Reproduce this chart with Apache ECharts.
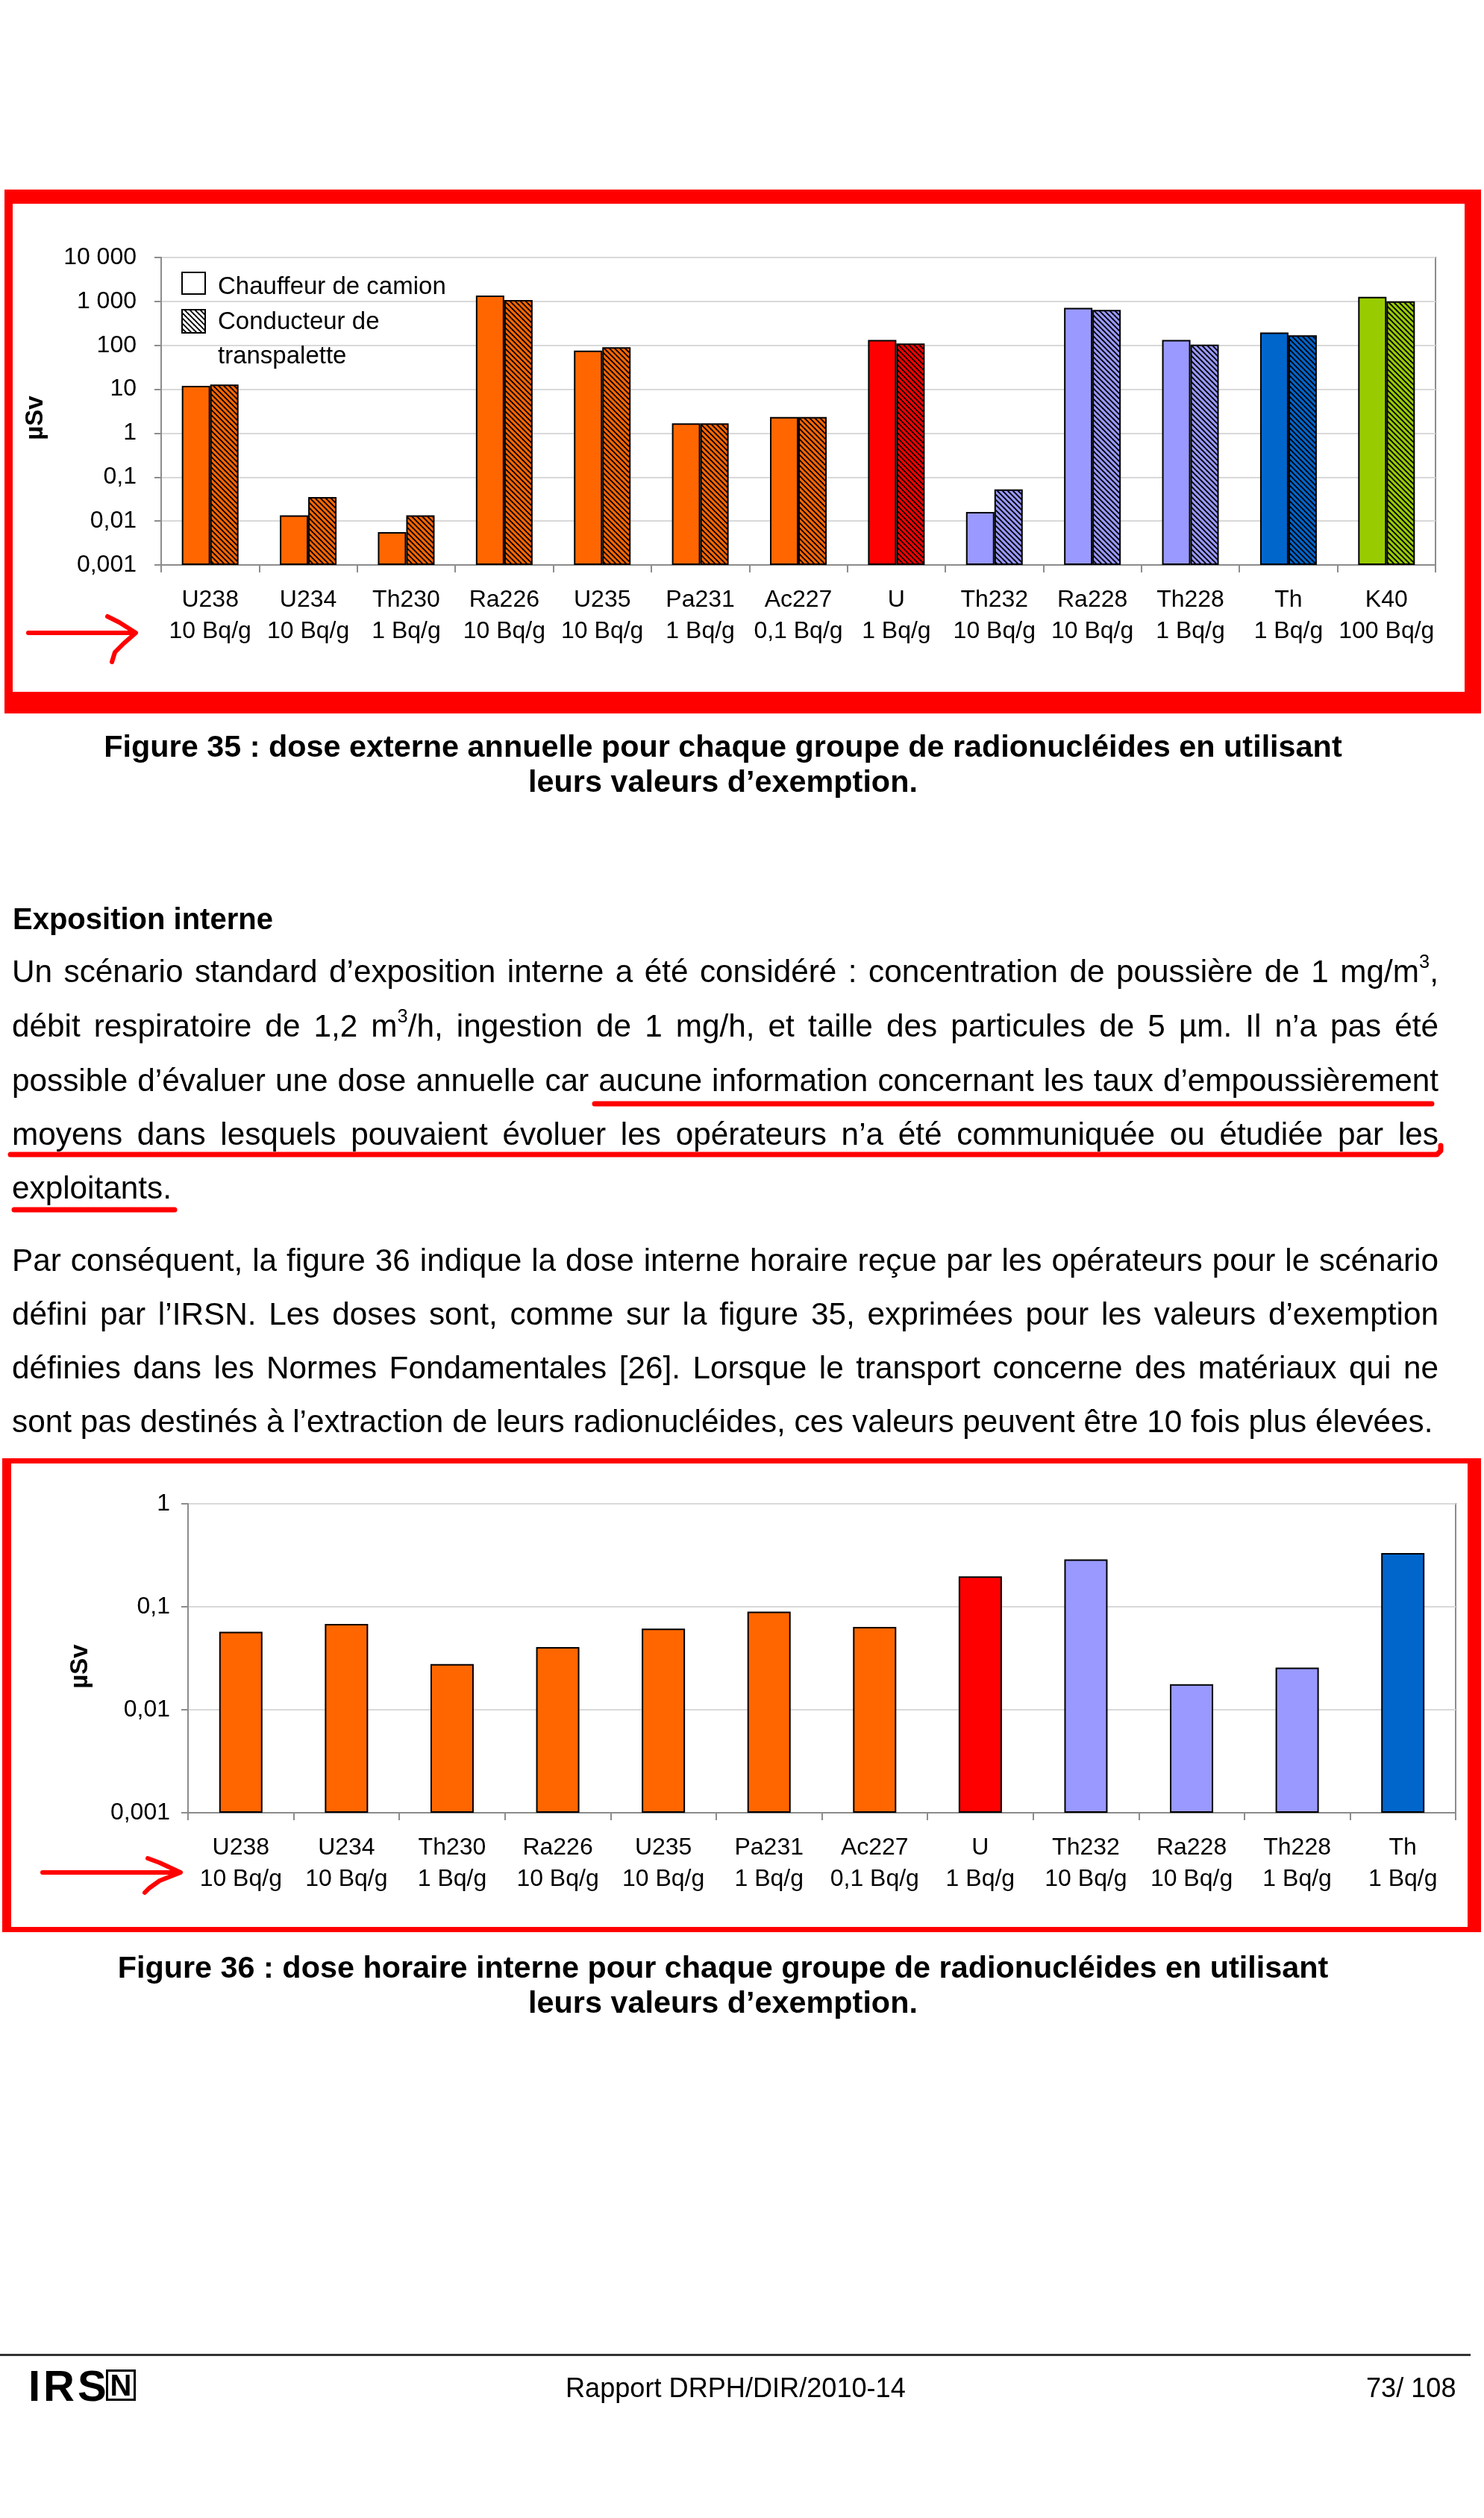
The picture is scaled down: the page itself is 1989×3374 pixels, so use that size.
<!DOCTYPE html>
<html><head><meta charset="utf-8">
<script src="https://cdn.jsdelivr.net/npm/echarts@6/dist/echarts.min.js"></script>
<style>
html,body{margin:0;padding:0;background:#fff;}
#page{position:relative;width:1989px;height:3374px;overflow:hidden;background:#fff;}
#chart{position:absolute;left:0;top:0;width:1989px;height:3374px;}
.t{position:absolute;white-space:nowrap;font-family:'Liberation Sans',Arial,sans-serif;color:#000;line-height:1;z-index:2;}
.t sup{font-size:0.6em;line-height:0;vertical-align:0.75em;}
</style></head><body><div id="page"><div id="chart"></div></div>
<script>
// ---------- DATA ----------
const categories1 = ['U238','U234','Th230','Ra226','U235','Pa231','Ac227','U','Th232','Ra228','Th228','Th','K40'];
const activities1 = ['10 Bq/g','10 Bq/g','1 Bq/g','10 Bq/g','10 Bq/g','1 Bq/g','0,1 Bq/g','1 Bq/g','10 Bq/g','10 Bq/g','1 Bq/g','1 Bq/g','100 Bq/g'];
const family1 = ['U-chain','U-chain','U-chain','U-chain','U-chain','U-chain','U-chain','U-total','Th-chain','Th-chain','Th-chain','Th-total','K'];
const chauffeurCamion = [11.9, 0.0135, 0.0056, 1360, 76, 1.68, 2.33, 132, 0.0161, 714, 132, 196, 1270];
const conducteurTranspalette = [12.8, 0.035, 0.0135, 1077, 91, 1.68, 2.33, 110, 0.0527, 640, 104, 169, 1005];
const yTicks1 = ['0,001','0,01','0,1','1','10','100','1 000','10 000'];

const categories2 = ['U238','U234','Th230','Ra226','U235','Pa231','Ac227','U','Th232','Ra228','Th228','Th'];
const activities2 = ['10 Bq/g','10 Bq/g','1 Bq/g','10 Bq/g','10 Bq/g','1 Bq/g','0,1 Bq/g','1 Bq/g','10 Bq/g','10 Bq/g','1 Bq/g','1 Bq/g'];
const family2 = ['U-chain','U-chain','U-chain','U-chain','U-chain','U-chain','U-chain','U-total','Th-chain','Th-chain','Th-chain','Th-total'];
const doseInterneHoraire = [0.0571, 0.068, 0.0278, 0.0406, 0.0615, 0.0898, 0.0636, 0.197, 0.288, 0.0177, 0.0257, 0.332];
const yTicks2 = ['0,001','0,01','0,1','1'];

const legendLabels = ['Chauffeur de camion', 'Conducteur de', 'transpalette'];

// ---------- STYLE ----------
const FONT = "'Liberation Sans', Arial, sans-serif";
const RED = '#FF0000';
const FAMILY_COLORS = {'U-chain':'#FF6600','U-total':'#FF0000','Th-chain':'#9999FF','Th-total':'#0066CC','K':'#99CC00'};
const AXIS_GRAY = '#8c8c8c';
const GRID_GRAY = '#d9d9d9';

function hatch(bg) {
  const c = document.createElement('canvas'); c.width = 7; c.height = 7;
  const g = c.getContext('2d');
  g.fillStyle = bg; g.fillRect(0, 0, 7, 7);
  g.strokeStyle = '#000'; g.lineWidth = 1.9;
  for (let k = -1; k <= 1; k++) { g.beginPath(); g.moveTo(-1, -1 + 7 * k); g.lineTo(8, 8 + 7 * k); g.stroke(); }
  return { image: c, repeat: 'repeat' };
}
function logLabel(ticks) {
  return v => ticks[Math.round(Math.log10(v)) - Math.round(Math.log10(parseFloat(ticks[0].replace(',', '.'))))] || '';
}

function xAxisCfg(gi, cats, acts) {
  return {
    gridIndex: gi, type: 'category', data: cats,
    axisLine: { onZero: false, lineStyle: { color: AXIS_GRAY, width: 2 } },
    axisTick: { show: true, length: 10, alignWithLabel: false, lineStyle: { color: AXIS_GRAY, width: 2 } },
    splitLine: { show: false },
    axisLabel: { interval: 0, formatter: (v, i) => v + '\n' + acts[i], fontFamily: FONT, fontSize: 32, lineHeight: 42, color: '#000', margin: 26 }
  };
}
function yAxisCfg(gi, min, max, split, ticks, margin) {
  return {
    gridIndex: gi, type: 'log', logBase: 10, min: min, max: max, splitNumber: split, startValue: min,
    axisLine: { show: true, lineStyle: { color: AXIS_GRAY, width: 2 } },
    axisTick: { show: true, length: 9, lineStyle: { color: AXIS_GRAY, width: 2 } },
    minorTick: { show: false }, minorSplitLine: { show: false },
    splitLine: { show: true, lineStyle: { color: GRID_GRAY, width: 2 } },
    axisLabel: { formatter: logLabel(ticks), fontFamily: FONT, fontSize: 32, color: '#000', margin: margin }
  };
}
function rect(x, y, w, h) { return { type: 'rect', z: 100, shape: { x: x, y: y, width: w, height: h }, style: { fill: RED } }; }
function pline(pts, w) { return { type: 'polyline', z: 100, shape: { points: pts }, style: { stroke: RED, lineWidth: w || 6, lineCap: 'round', lineJoin: 'round', fill: null } }; }
function txt(x, y, s, font, rot) {
  return { type: 'text', z: 100, x: x, y: y, rotation: rot || 0,
    style: { text: s, font: font, fill: '#000', textAlign: rot ? 'center' : 'left', textVerticalAlign: 'middle', align: rot ? 'center' : 'left', verticalAlign: 'middle' } };
}

const chart = echarts.init(document.getElementById('chart'), null, { renderer: 'canvas' });
const option = {
  animation: false,
  backgroundColor: '#fff',
  textStyle: { fontFamily: FONT },
  grid: [
    { left: 216, top: 345, width: 1708, height: 412, show: true, borderColor: AXIS_GRAY, borderWidth: 2, containLabel: false },
    { left: 252, top: 2015, width: 1699, height: 414, show: true, borderColor: AXIS_GRAY, borderWidth: 2, containLabel: false }
  ],
  xAxis: [xAxisCfg(0, categories1, activities1), xAxisCfg(1, categories2, activities2)],
  yAxis: [yAxisCfg(0, 0.001, 10000, 7, yTicks1, 33), yAxisCfg(1, 0.001, 1, 3, yTicks2, 24)],
  series: [
    { type: 'bar', name: legendLabels[0], xAxisIndex: 0, yAxisIndex: 0, barWidth: 38, barGap: '0%',
      itemStyle: { borderColor: '#000', borderWidth: 2 },
      data: chauffeurCamion.map((v, i) => ({ value: v, itemStyle: { color: FAMILY_COLORS[family1[i]] } })) },
    { type: 'bar', name: legendLabels[1] + ' ' + legendLabels[2], xAxisIndex: 0, yAxisIndex: 0, barWidth: 38, barGap: '0%',
      itemStyle: { borderColor: '#000', borderWidth: 2 },
      data: conducteurTranspalette.map((v, i) => ({ value: v, itemStyle: { color: hatch(FAMILY_COLORS[family1[i]]) } })) },
    { type: 'bar', name: 'Dose interne horaire', xAxisIndex: 1, yAxisIndex: 1, barWidth: 58,
      itemStyle: { borderColor: '#000', borderWidth: 2 },
      data: doseInterneHoraire.map((v, i) => ({ value: v, itemStyle: { color: FAMILY_COLORS[family2[i]] } })) }
  ],
  graphic: [
    // red frame figure 35
    rect(6, 254, 1979, 19), rect(6, 254, 11, 702), rect(1963, 254, 22, 702), rect(6, 927, 1979, 29),
    // red frame figure 36
    rect(3, 1954, 1982, 7), rect(3, 1954, 12, 635), rect(1967, 1954, 18, 635), rect(3, 2582, 1982, 7),
    // arrows
    pline([[38, 848], [181, 848]], 6),
    pline([[144, 826], [160, 834], [182, 848], [166, 862], [154, 874], [150, 887]], 6),
    pline([[57, 2509], [241, 2509]], 6),
    pline([[198, 2490], [214, 2496], [242, 2509], [214, 2520], [200, 2530], [194, 2536]], 6),
    // underlines in text
    pline([[797, 1479], [1919, 1479]], 7),
    pline([[14, 1547], [1926, 1547], [1931, 1542], [1931, 1535]], 7),
    pline([[19, 1621], [234, 1621]], 7),
    // legend
    { type: 'rect', z: 100, shape: { x: 244, y: 365, width: 31, height: 29 }, style: { fill: '#fff', stroke: '#000', lineWidth: 2 } },
    { type: 'rect', z: 100, shape: { x: 244, y: 415, width: 31, height: 31 }, style: { fill: hatch('#ffffff'), stroke: '#000', lineWidth: 2 } },
    txt(292, 385, legendLabels[0], '33px ' + FONT),
    txt(292, 432, legendLabels[1], '33px ' + FONT),
    txt(292, 478, legendLabels[2], '33px ' + FONT),
    // axis names
    txt(48, 560, 'µSv', 'bold 33px ' + FONT, Math.PI / 2),
    txt(108, 2233, 'µSv', 'bold 33px ' + FONT, Math.PI / 2)
  ]
};
chart.setOption(option);

// ---------- HTML TEXT ----------
const page = document.getElementById('page');
function addLine(html, opt) {
  const d = document.createElement('div');
  d.className = 't';
  d.innerHTML = html;
  d.style.fontSize = opt.size + 'px';
  d.style.fontWeight = opt.bold ? 'bold' : 'normal';
  if (opt.ls) d.style.letterSpacing = opt.ls + 'px';
  page.appendChild(d);
  const w = d.getBoundingClientRect().width;
  let left = opt.left;
  if (opt.justify) {
    const n = (d.textContent.match(/ /g) || []).length;
    if (n) d.style.wordSpacing = ((opt.justify - w) / n) + 'px';
  }
  if (opt.center != null) left = opt.center - w / 2;
  d.style.left = left + 'px';
  d.style.top = (opt.baseline - 0.8465 * opt.size) + 'px';
  return d;
}
function measure(html, size, bold) {
  const d = document.createElement('div');
  d.className = 't'; d.innerHTML = html; d.style.fontSize = size + 'px'; d.style.fontWeight = bold ? 'bold' : 'normal';
  page.appendChild(d); const w = d.getBoundingClientRect().width; page.removeChild(d); return w;
}

const heading = 'Exposition interne';
const para1 = [
  'Un scénario standard d’exposition interne a été considéré : concentration de poussière de 1 mg/m<sup>3</sup>,',
  'débit respiratoire de 1,2 m<sup>3</sup>/h, ingestion de 1 mg/h, et taille des particules de 5 µm. Il n’a pas été',
  'possible d’évaluer une dose annuelle car aucune information concernant les taux d’empoussièrement',
  'moyens dans lesquels pouvaient évoluer les opérateurs n’a été communiquée ou étudiée par les',
  'exploitants.'
];
const para2 = [
  'Par conséquent, la figure 36 indique la dose interne horaire reçue par les opérateurs pour le scénario',
  'défini par l’IRSN. Les doses sont, comme sur la figure 35, exprimées pour les valeurs d’exemption',
  'définies dans les Normes Fondamentales [26]. Lorsque le transport concerne des matériaux qui ne',
  'sont pas destinés à l’extraction de leurs radionucléides, ces valeurs peuvent être 10 fois plus élevées.'
];
const caption35 = ['Figure 35 : dose externe annuelle pour chaque groupe de radionucléides en utilisant', 'leurs valeurs d’exemption.'];
const caption36 = ['Figure 36 : dose horaire interne pour chaque groupe de radionucléides en utilisant', 'leurs valeurs d’exemption.'];

const bodySize = 100 * 1905 / measure(para2[3], 100, false);
addLine(heading, { size: 40, bold: true, left: 17, baseline: 1245 });
const base1 = [1317, 1390, 1463, 1535, 1607];
para1.forEach((l, i) => addLine(l, { size: bodySize, left: 16, baseline: base1[i], justify: i < 4 ? 1912 : null }));
const base2 = [1704, 1776, 1848, 1920];
para2.forEach((l, i) => addLine(l, { size: bodySize, left: 16, baseline: base2[i], justify: i < 3 ? 1912 : null }));

const capSize = 100 * 1660 / measure(caption35[0], 100, true);
addLine(caption35[0], { size: capSize, bold: true, center: 969, baseline: 1015 });
addLine(caption35[1], { size: capSize, bold: true, center: 969, baseline: 1062 });
addLine(caption36[0], { size: capSize, bold: true, center: 969, baseline: 2651 });
addLine(caption36[1], { size: capSize, bold: true, center: 969, baseline: 2698 });

// footer
const hr = document.createElement('div');
hr.style.cssText = 'position:absolute;left:0;top:3154px;width:1971px;height:3px;background:#333;';
page.appendChild(hr);
const footSize = 100 * 456 / measure('Rapport DRPH/DIR/2010-14', 100, false);
addLine('Rapport DRPH/DIR/2010-14', { size: footSize, left: 758, baseline: 3213 });
addLine('73/ 108', { size: footSize, left: 1831, baseline: 3213 });
addLine('IRS', { size: 58, bold: true, left: 38, baseline: 3217, ls: 4 });
const nbox = document.createElement('div');
nbox.style.cssText = "position:absolute;left:142px;top:3175px;width:40px;height:42px;box-sizing:border-box;border:3px solid #000;font:bold 40px 'Liberation Sans',Arial,sans-serif;line-height:36px;text-align:center;color:#000;";
nbox.textContent = 'N';
page.appendChild(nbox);
</script></body></html>
